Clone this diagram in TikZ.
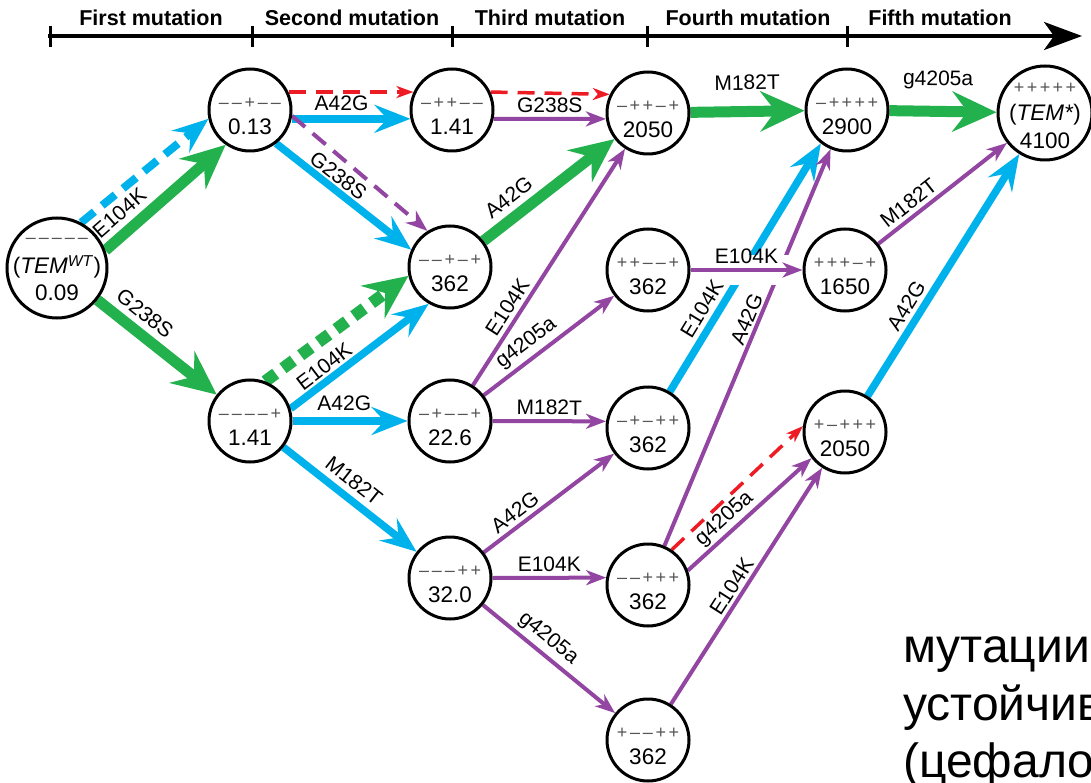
\documentclass[tikz,border=0pt]{standalone}
\usepackage{fontspec}
\setmainfont{Liberation Sans}
\usetikzlibrary{arrows.meta,backgrounds}

\definecolor{mutgreen}{RGB}{35,177,77}
\definecolor{mutcyan}{RGB}{0,178,236}
\definecolor{mutpurple}{RGB}{146,70,162}
\definecolor{mutred}{RGB}{237,28,36}
\definecolor{signgray}{RGB}{85,85,85}

% row of +/- signs, one fixed-width box per sign
\newcommand\sgnrow[1]{{\color{signgray}\fontsize{18}{18}\selectfont\sgnloop#1\relax}}
\def\sgnloop#1{\ifx#1\relax\else\makebox[13pt]{\if#1-–\else+\fi}\expandafter\sgnloop\fi}

% genotype circle: name, x, y, signs, value
\newcommand\mutnode[5]{%
  \node[mut] (#1) at (#2,#3) {};
  \node[signtxt] (#1-s) at (#2,#3-7) {\sgnrow{#4}};
  \node[valtxt] (#1-v) at (#2,#3+17) {#5};
}

\tikzset{
  mut/.style={circle, draw=black, line width=3pt, fill=white, minimum size=82pt, inner sep=0pt},
  signtxt/.style={inner sep=0pt},
  valtxt/.style={inner sep=0pt, font=\fontsize{22.5}{22.5}\selectfont},
  lbl/.style={sloped, inner sep=1pt, text=black, font=\fontsize{21}{21}\selectfont},
  hdr/.style={inner sep=0pt, font=\fontsize{21.5}{21.5}\selectfont\bfseries},
  cyr/.style={inner sep=0pt, anchor=base west, font=\fontsize{48}{48}\selectfont},
  axis/.style={line width=3.5pt, -{Stealth[length=38pt,width=28pt,inset=10pt]}},
  tick/.style={line width=3pt},
  greenarrow/.style={draw=mutgreen, line width=11pt, -{Stealth[length=44pt,width=40pt,inset=15pt]}},
  greendash/.style={draw=mutgreen, line width=12pt, dash pattern=on 13pt off 9pt, -{Stealth[length=44pt,width=40pt,inset=15pt]}},
  cyanarrow/.style={draw=mutcyan, line width=7.5pt, -{Stealth[length=36pt,width=28pt,inset=13pt]}},
  cyandash/.style={draw=mutcyan, line width=8pt, dash pattern=on 17pt off 10pt, -{Stealth[length=36pt,width=28pt,inset=13pt]}},
  purplearrow/.style={draw=mutpurple, line width=4pt, -{Stealth[length=20pt,width=15pt,inset=6pt]}},
  purpledash/.style={draw=mutpurple, line width=4pt, dash pattern=on 17pt off 10pt, -{Stealth[length=22pt,width=16pt,inset=7pt]}},
  reddash/.style={draw=mutred, line width=3.5pt, dash pattern=on 17pt off 10pt, -{Stealth[length=17pt,width=12pt,inset=5pt]}},
  bridge/.style={draw=white, line width=30pt},
}

\begin{document}
\begin{tikzpicture}[x=1pt, y=-1pt]
\useasboundingbox (0,0) rectangle (1091,783);

% time axis
\coordinate (ax0) at (48,36);
\coordinate (ax1) at (1082,36);
\draw[axis] (ax0) -- (ax1);
\foreach \x in {50,252,452,647,847} \draw[tick] (\x,26) -- (\x,47);
\node[hdr] (h1) at (151,18) {First mutation};
\node[hdr] (h2) at (352,18) {Second mutation};
\node[hdr] (h3) at (550,18) {Third mutation};
\node[hdr] (h4) at (748,18) {Fourth mutation};
\node[hdr] (h5) at (940,18) {Fifth mutation};

% wild type and full mutant
\node[mut, minimum size=100pt] (wt) at (57,268) {};
\node[signtxt] (wt-s) at (57,241) {\sgnrow{-----}};
\node[valtxt] (wt-t) at (57,267) {(\textit{TEM}\textsuperscript{\textit{WT}})};
\node[valtxt] (wt-v) at (57,293) {0.09};

\node[mut, minimum size=94pt] (ntem) at (1045,113) {};
\node[signtxt] (ntem-s) at (1045,88) {\sgnrow{+++++}};
\node[valtxt] (ntem-t) at (1045,115) {(\textit{TEM*})};
\node[valtxt] (ntem-v) at (1045,141) {4100};

% intermediate genotypes
\mutnode{n13}{250}{110}{--+--}{0.13}
\mutnode{nA}{452}{110}{-++--}{1.41}
\mutnode{n2050}{648}{113}{-++-+}{2050}
\mutnode{n2900}{847}{110}{-++++}{2900}
\mutnode{n362a}{450}{267}{--+-+}{362}
\mutnode{n362b}{648}{270}{++--+}{362}
\mutnode{n1650}{845}{270}{+++-+}{1650}
\mutnode{n141}{250}{421}{----+}{1.41}
\mutnode{n226}{450}{421}{-+--+}{22.6}
\mutnode{n362c}{648}{428}{-+-++}{362}
\mutnode{n2050b}{845}{432}{+-+++}{2050}
\mutnode{n320}{450}{578}{---++}{32.0}
\mutnode{n362d}{648}{585}{--+++}{362}
\mutnode{n362e}{648}{740}{+--++}{362}

\begin{scope}[on background layer]
  % first step
  \draw[cyandash] (wt.62) -- (n13.192);
  \draw[greenarrow] (wt.20) -- (n13.235) node[lbl, pos=.22, above=5pt] {E104K};
  \draw[greenarrow] (wt) -- (n141) node[lbl, pos=.3, above=5pt] {G238S};
  % second step
  \draw[reddash] (n13.25) -- (nA.155);
  \draw[cyanarrow] (n13.-12) -- (nA.192) node[lbl, pos=.42, above=3pt] {A42G};
  \draw[purpledash] (n13.-8) -- (n362a.122);
  \draw[cyanarrow] (n13.-52) -- (n362a.156) node[lbl, pos=.4, above=1pt] {G238S};
  \draw[greendash] (n141.69) -- (n362a.192);
  \draw[cyanarrow] (n141.17) -- (n362a.240) node[lbl, pos=.3, above=1pt] {E104K};
  \draw[cyanarrow] (n141) -- (n226) node[lbl, pos=.45, above=6pt] {A42G};
  \draw[cyanarrow] (n141) -- (n320) node[lbl, pos=.45, above=5pt] {M182T};
  % third step
  \draw[reddash] (nA.25) -- (n2050.154);
  \draw[purplearrow] (nA.-12) -- (n2050.188) node[lbl, pos=.5, above=3pt] {G238S};
  \draw[greenarrow] (n362a) -- (n2050) node[lbl, pos=.28, above=5pt] {A42G};
  \draw[purplearrow] (n226) -- (n2050) node[lbl, pos=.3, above=3pt] {E104K};
  \draw[purplearrow] (n226) -- (n362b) node[lbl, pos=.4, above=3pt] {g4205a};
  \draw[purplearrow] (n226.0) -- (n362c.171) node[lbl, pos=.5, above=3pt] {M182T};
  \draw[purplearrow] (n320) -- (n362c) node[lbl, pos=.3, above=3pt] {A42G};
  \draw[purplearrow] (n320.0) -- (n362d.170) node[lbl, pos=.5, above=3pt] {E104K};
  \draw[purplearrow] (n320) -- (n362e) node[lbl, pos=.42, above=3pt] {g4205a};
  % fourth step
  \draw[greenarrow] (n2050) -- (n2900) node[lbl, pos=.5, above=15pt] {M182T};
  \draw[cyanarrow] (n362c.59) -- (n2900.232);
  \draw[purplearrow] (n362d) -- (n2900);
  % the horizontal E104K step passes over the two long steps
  \draw[bridge] ([xshift=8pt]n362b.east) -- ([xshift=-8pt]n1650.west);
  \draw[purplearrow] (n362b) -- (n1650) node[lbl, pos=.5, above=3pt] {E104K};
  \path (n362c.59) -- (n2900.232) node[lbl, pos=.3, above=7pt] {E104K};
  \path (n362d) -- (n2900) node[lbl, pos=.56, above=3pt] {A42G};
  \draw[purplearrow] (n362d.20) -- (n2050b.218) node[lbl, pos=.37, above=1pt] {g4205a};
  \draw[reddash] (n362d.56) -- (n2050b.172);
  \draw[purplearrow] (n362e) -- (n2050b) node[lbl, pos=.47, above=2pt] {E104K};
  % fifth step
  \draw[greenarrow] (n2900) -- (ntem) node[lbl, pos=.45, above=15pt] {g4205a};
  \draw[purplearrow] (n1650) -- (ntem) node[lbl, pos=.3, above=3pt] {M182T};
  \draw[cyanarrow] (n2050b) -- (ntem) node[lbl, pos=.34, above=3pt] {A42G};
\end{scope}

% caption fragment at the lower right edge
\begin{scope}
  \clip (0,0) rectangle (1091,783);
  \node[cyr] (c1) at (903,662) {мутации};
  \node[cyr] (c2) at (903,720) {устойчив};
  \node[cyr] (c3) at (903,777) {(цефало};
\end{scope}
\end{tikzpicture}
\end{document}
